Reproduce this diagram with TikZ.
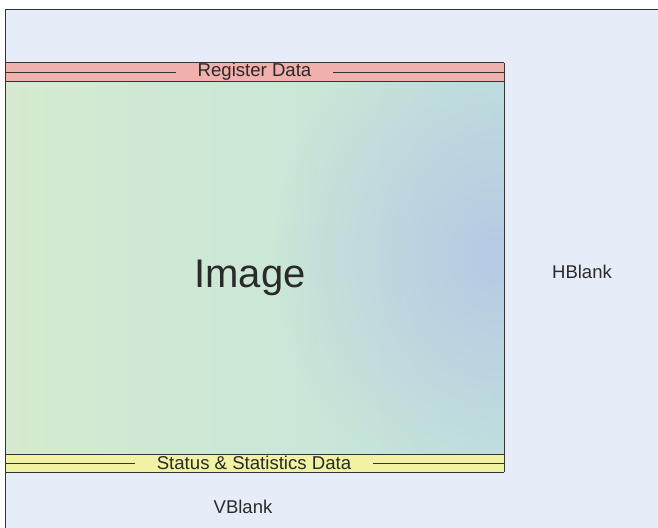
\documentclass[tikz,border=0pt]{standalone}
\usepackage{fontspec}
\setmainfont{Liberation Sans}
\usetikzlibrary{fadings}

\definecolor{blankbg}{HTML}{E6EDF8}
\definecolor{regpink}{HTML}{F0B0AC}
\definecolor{statyellow}{HTML}{F2F2A4}
\definecolor{imggreen}{HTML}{D5EAD0}
\definecolor{imgteal}{HTML}{C2E4DC}
\definecolor{imgblue}{HTML}{B6CAE4}
\definecolor{linegray}{HTML}{333333}
\definecolor{textgray}{HTML}{2A2A2A}
\tikzfading[name=glow, inner color=transparent!0, outer color=transparent!100]

\begin{document}
\begin{tikzpicture}[x=1pt, y=-1pt,
  frame/.style = {draw=linegray, line width=1pt},
  bandlabel/.style = {inner xsep=21.5pt, inner ysep=0pt, minimum height=18pt, text=textgray, font=\fontsize{18.6}{20}\selectfont},
  bigtext/.style = {text=textgray, font=\fontsize{40}{44}\selectfont},
  blanktext/.style = {text=textgray, font=\fontsize{18.5}{20}\selectfont}
]
\useasboundingbox (0,0) rectangle (658,527);
\clip (0,0) rectangle (658,527);
% blanking area
\fill[white] (0,0) rectangle (658,527);
\fill[blankbg] (5.5,10) rectangle (670,540);
% image area
\begin{scope}
  \clip (5.5,81) rectangle (504,454);
  \shade[left color=imggreen, right color=imgteal] (5.5,81) rectangle (504,454);
  \fill[imgblue, path fading=glow] (495,255) ellipse [x radius=220, y radius=250];
\end{scope}
% embedded data bands
\fill[regpink] (5.5,63) rectangle (504,81);
\fill[statyellow] (5.5,454) rectangle (504,472);
\draw[frame] (5.5,63) -- (504,63);
\draw[frame] (5.5,72) -- (504,72);
\draw[frame] (5.5,463) -- (504,463);
\node[bandlabel, fill=regpink] (regdata) at (254.5,72) {Register Data};
\node[bandlabel, fill=statyellow] (statdata) at (254,463) {Status \& Statistics Data};
\draw[frame] (5.5,81) -- (504,81);
\draw[frame] (5.5,454) -- (504,454);
\draw[frame] (5.5,472) -- (504,472);
\draw[frame] (504,63) -- (504,472);
% outer frame
\draw[frame] (5.5,540) -- (5.5,10) -- (670,10);
% labels
\node[bigtext, anchor=base] (image) at (250,287) {Image};
\node[blanktext] (hblank) at (582,272) {HBlank};
\node[blanktext] (vblank) at (243,507) {VBlank};
\end{tikzpicture}
\end{document}
